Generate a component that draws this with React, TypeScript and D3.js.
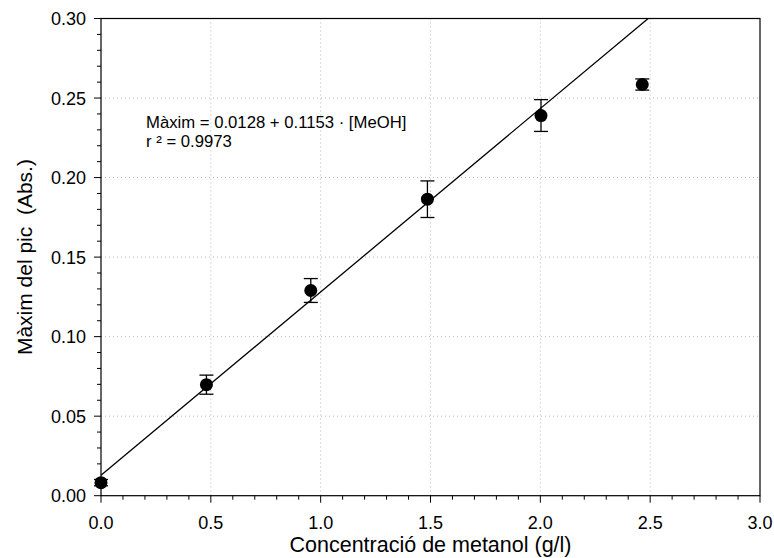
import React from 'react';
import { scaleLinear, range, line } from 'd3';

const concentracio = [0.0, 0.48, 0.955, 1.486, 2.003, 2.464];
const maxim = [0.0082, 0.0698, 0.129, 0.1864, 0.239, 0.2585];
const errorBar = [0.002, 0.006, 0.0075, 0.0115, 0.01, 0.0035];

// linear fit
const intercept = 0.0128;
const slope = 0.1153;

const xTicks = [0, 0.5, 1.0, 1.5, 2.0, 2.5, 3.0];
const yTicks = [0, 0.05, 0.1, 0.15, 0.2, 0.25, 0.3];

const width = 774;
const height = 558;
const margin = { top: 18.5, right: 14, bottom: 62.3, left: 101 };
const font = "'Liberation Sans', Arial, sans-serif";

function App() {
  const innerW = width - margin.left - margin.right;
  const innerH = height - margin.top - margin.bottom;

  const x = scaleLinear().domain([0, 3]).range([0, innerW]);
  const y = scaleLinear().domain([0, 0.3]).range([innerH, 0]);

  const xMinor = range(0, 3.0001, 0.1);
  const yMinor = range(0, 0.30001, 0.01);

  // fit line clipped to the top of the plot
  const xEnd = (0.3 - intercept) / slope;
  const fitPath = line<number>()
    .x(d => x(d))
    .y(d => y(intercept + slope * d))([0, xEnd]);

  const points = concentracio.map((c, i) => ({ c, v: maxim[i], e: errorBar[i] }));

  return (
    <div style={{ position: 'fixed', left: 0, top: 0 }}>
      <svg width={width} height={height} style={{ display: 'block', background: '#fff' }}>
        <g transform={`translate(${margin.left},${margin.top})`}>
          {/* grid */}
          {xTicks.slice(1, -1).map(t => (
            <line key={'gx' + t} x1={x(t)} x2={x(t)} y1={0} y2={innerH}
              stroke="#b8b8b8" strokeWidth={1} strokeDasharray="1,3" />
          ))}
          {yTicks.slice(1, -1).map(t => (
            <line key={'gy' + t} x1={0} x2={innerW} y1={y(t)} y2={y(t)}
              stroke="#b8b8b8" strokeWidth={1} strokeDasharray="1,3" />
          ))}

          {/* frame */}
          <rect x={0} y={0} width={innerW} height={innerH} fill="none" stroke="#000" strokeWidth={1.2} />

          {/* x ticks */}
          {xMinor.map((t, i) => (
            <line key={'xm' + i} x1={x(t)} x2={x(t)} y1={innerH} y2={innerH + (i % 5 === 0 ? 7 : 4)}
              stroke="#000" strokeWidth={1} />
          ))}
          {xTicks.map(t => (
            <text key={'xl' + t} x={x(t)} y={innerH + 33} textAnchor="middle"
              fontFamily={font} fontSize={18} fill="#000">{t.toFixed(1)}</text>
          ))}

          {/* y ticks */}
          {yMinor.map((t, i) => (
            <line key={'ym' + i} x1={-(i % 5 === 0 ? 7 : 4)} x2={0} y1={y(t)} y2={y(t)}
              stroke="#000" strokeWidth={1} />
          ))}
          {yTicks.map(t => (
            <text key={'yl' + t} x={-15} y={y(t)} dy="0.36em" textAnchor="end"
              fontFamily={font} fontSize={18} fill="#000">{t.toFixed(2)}</text>
          ))}

          {/* fit line */}
          <path d={fitPath ?? ''} fill="none" stroke="#000" strokeWidth={1.3} />

          {/* error bars + points */}
          {points.map((p, i) => (
            <g key={'p' + i}>
              <line x1={x(p.c)} x2={x(p.c)} y1={y(p.v - p.e)} y2={y(p.v + p.e)} stroke="#000" strokeWidth={1.3} />
              <line x1={x(p.c) - 7} x2={x(p.c) + 7} y1={y(p.v - p.e)} y2={y(p.v - p.e)} stroke="#000" strokeWidth={1.3} />
              <line x1={x(p.c) - 7} x2={x(p.c) + 7} y1={y(p.v + p.e)} y2={y(p.v + p.e)} stroke="#000" strokeWidth={1.3} />
              <circle cx={x(p.c)} cy={y(p.v)} r={6.5} fill="#000" />
            </g>
          ))}

          {/* equation */}
          <text x={45} y={109} fontFamily={font} fontSize={16.7} fill="#000">
            Màxim = 0.0128 + 0.1153 · [MeOH]
          </text>
          <text x={45} y={128} fontFamily={font} fontSize={16.7} fill="#000">
            r ² = 0.9973
          </text>
        </g>

        {/* axis titles */}
        <text x={margin.left + innerW / 2} y={552} textAnchor="middle"
          fontFamily={font} fontSize={21.5} fill="#000">Concentració de metanol (g/l)</text>
        <text transform={`translate(32,${margin.top + innerH / 2}) rotate(-90)`} textAnchor="middle"
          fontFamily={font} fontSize={21} fill="#000" style={{ whiteSpace: 'pre' }}>Màxim del pic  (Abs.)</text>
      </svg>
    </div>
  );
}

export default App;
